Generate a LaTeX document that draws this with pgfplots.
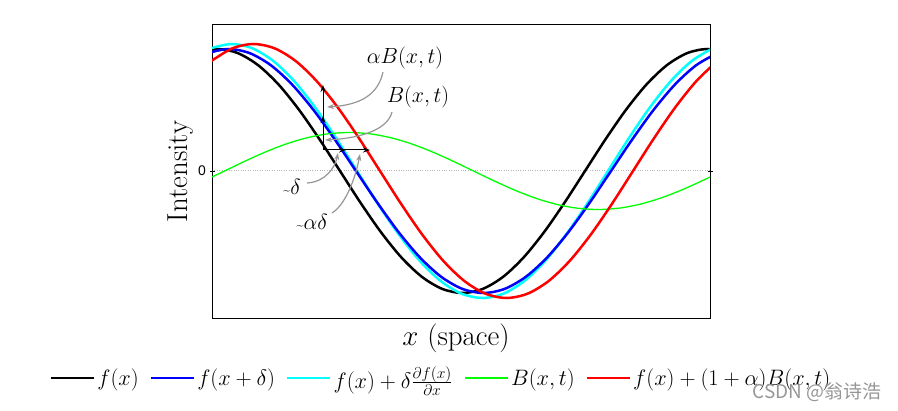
\RequirePackage{fix-cm}
\documentclass[border=0pt]{standalone}
\usepackage{fontspec}
\usepackage{pgfplots}
\pgfplotsset{compat=1.18}
\usetikzlibrary{arrows.meta}
\newfontfamily\arialfont{Liberation Sans}
\newfontfamily\cjkfont{Noto Sans CJK SC}
\definecolor{mycyan}{RGB}{0,255,255}
\definecolor{mygreen}{RGB}{0,255,0}
\definecolor{myblue}{RGB}{0,0,255}
\definecolor{myred}{RGB}{255,0,0}
\definecolor{anngray}{RGB}{150,150,150}
\begin{document}
\begin{tikzpicture}[x=1bp,y=1bp]
\useasboundingbox (0,0) rectangle (898,410);
\begin{axis}[
  at={(212,92)}, anchor=south west,
  scale only axis, width=498bp, height=293bp,
  xmin=0, xmax=498, ymin=-147, ymax=146,
  xtick=\empty, ytick={0}, yticklabels={\arialfont 0},
  yticklabel style={font=\fontsize{14}{14}\selectfont},
  major tick length=5bp, tick align=center, tick style={black, line width=0.8bp},
  axis line style={line width=1bp},
  ymajorgrids, grid style={anngray!70, dotted, line width=1bp},
  xlabel={$x$ (space)}, ylabel={Intensity},
  label style={font=\fontsize{29}{33}\selectfont},
  xlabel style={at={(axis description cs:0.49,-0.068)}, anchor=center},
  ylabel style={at={(axis description cs:-0.064,0.5)}, anchor=center},
  legend style={at={(axis description cs:0.46,-0.205)}, anchor=center, draw=none, fill=none,
    font=\fontsize{22.4}{26}\selectfont, inner sep=0pt,
    /tikz/every even column/.append style={column sep=9bp}},
  legend columns=5,
  legend image code/.code={\draw[#1] (0bp,0bp) -- (43bp,0bp);},
]
% f(x)
\addplot[black, line width=2.5bp, smooth, forget plot] coordinates {
(-14.92,117.84) (5.5,122) (25.92,117.84) (46.33,105.65) (66.75,86.27) (87.17,61)
(107.58,31.58) (128,0) (148.42,-31.58) (168.83,-61) (189.25,-86.27) (209.67,-105.65)
(230.08,-117.84) (250.5,-122) (270.92,-117.84) (291.33,-105.65) (311.75,-86.27)
(332.17,-61) (352.58,-31.58) (373,0) (393.42,31.58) (413.83,61) (434.25,86.27)
(454.67,105.65) (475.08,117.84) (495.5,122) (515.92,117.84)};
% f(x) + delta df/dx
\addplot[mycyan, line width=2.5bp, smooth, forget plot] coordinates {
(-1.42,122.67) (19.5,127) (40.42,122.67) (61.33,109.99) (82.25,89.80) (103.17,63.5)
(124.08,32.87) (145,0) (165.92,-32.87) (186.83,-63.5) (207.75,-89.80) (228.67,-109.99)
(249.58,-122.67) (270.5,-127) (291.42,-122.67) (312.33,-109.99) (333.25,-89.80)
(354.17,-63.5) (375.08,-32.87) (396,0) (416.92,32.87) (437.83,63.5) (458.75,89.80)
(479.67,109.99) (500.58,122.67)};
% f(x+delta)
\addplot[myblue, line width=2.5bp, smooth, forget plot] coordinates {
(-4.75,117.84) (16.5,122) (37.75,117.84) (59,105.65) (80.25,86.27) (101.5,61)
(122.75,31.58) (144,0) (165.25,-31.58) (186.5,-61) (207.75,-86.27) (229,-105.65)
(250.25,-117.84) (271.5,-122) (292.75,-117.84) (314,-105.65) (335.25,-86.27)
(356.5,-61) (377.75,-31.58) (399,0) (420.25,31.58) (441.5,61) (462.75,86.27)
(484,105.65) (505.25,117.84)};
% B(x,t)
\addplot[mygreen, line width=1.3bp, smooth, forget plot] coordinates {
(-8.25,-9.96) (12.5,0) (33.25,9.96) (54,19.25) (74.75,27.22) (95.5,33.34) (116.25,37.19)
(137,38.5) (157.75,37.19) (178.5,33.34) (199.25,27.22) (220,19.25) (240.75,9.96)
(261.5,0) (282.25,-9.96) (303,-19.25) (323.75,-27.22) (344.5,-33.34) (365.25,-37.19)
(386,-38.5) (406.75,-37.19) (427.5,-33.34) (448.25,-27.22) (469,-19.25) (489.75,-9.96)
(510.5,0)};
% f(x) + (1+alpha) B(x,t)
\addplot[myred, line width=2.5bp, smooth, forget plot] coordinates {
(-0.67,109.99) (20.42,122.67) (41.5,127) (62.58,122.67) (83.67,109.99) (104.75,89.80)
(125.83,63.5) (146.92,32.87) (168,0) (189.08,-32.87) (210.17,-63.5) (231.25,-89.80)
(252.33,-109.99) (273.42,-122.67) (294.5,-127) (315.58,-122.67) (336.67,-109.99)
(357.75,-89.80) (378.83,-63.5) (399.92,-32.87) (421,0) (442.08,32.87) (463.17,63.5)
(484.25,89.80) (505.33,109.99)};

\addlegendimage{black, line width=2.5bp}
\addlegendentry{$f(x)$}
\addlegendimage{myblue, line width=2.5bp}
\addlegendentry{$f(x+\delta)$}
\addlegendimage{mycyan, line width=2.5bp}
\addlegendentry{$f(x)+\delta\frac{\partial f(x)}{\partial x}$}
\addlegendimage{mygreen, line width=2.5bp}
\addlegendentry{$B(x,t)$}
\addlegendimage{myred, line width=2.5bp}
\addlegendentry{$f(x)+(1+\alpha)B(x,t)$}

% black displacement arrows
\draw[black, line width=1bp, -{Stealth[length=7bp,width=5bp]}] (111,21) -- (111,55);
\draw[black, line width=1bp, -{Stealth[length=7bp,width=5bp]}] (111,53) -- (111,86);
\draw[black, line width=1bp, -{Stealth[length=7bp,width=5bp]}] (111,21) -- (134,21);
\draw[black, line width=1bp, -{Stealth[length=7bp,width=5bp]}] (132,21) -- (158,21);
% gray annotation arrows
\draw[anngray, line width=1.2bp, -{Stealth[length=7bp,width=5bp]}] (171,99) .. controls (166,76) and (148,66) .. (115,64);
\draw[anngray, line width=1.2bp, -{Stealth[length=7bp,width=5bp]}] (180,59) .. controls (176,43) and (153,33) .. (113,31);
\draw[anngray, line width=1.2bp, -{Stealth[length=7bp,width=5bp]}] (95,-12) .. controls (113,-11) and (123,3) .. (126,18);
\draw[anngray, line width=1.2bp, -{Stealth[length=7bp,width=5bp]}] (120,-42) .. controls (133,-34) and (143,-9) .. (148,17);
\node[font=\fontsize{22}{26}\selectfont] at (193,113) {$\alpha B(x,t)$};
\node[font=\fontsize{22}{26}\selectfont] at (206,74) {$B(x,t)$};
\node[font=\fontsize{22}{26}\selectfont] at (80,-16) {{\fontsize{13}{13}\selectfont\textasciitilde}$\delta$};
\node[font=\fontsize{22}{26}\selectfont] at (100,-51) {{\fontsize{13}{13}\selectfont\textasciitilde}$\alpha\delta$};
\end{axis}
\node[anngray, font=\cjkfont\fontsize{19}{19}\selectfont] at (817,18) {CSDN @翁诗浩};
\end{tikzpicture}
\end{document}
